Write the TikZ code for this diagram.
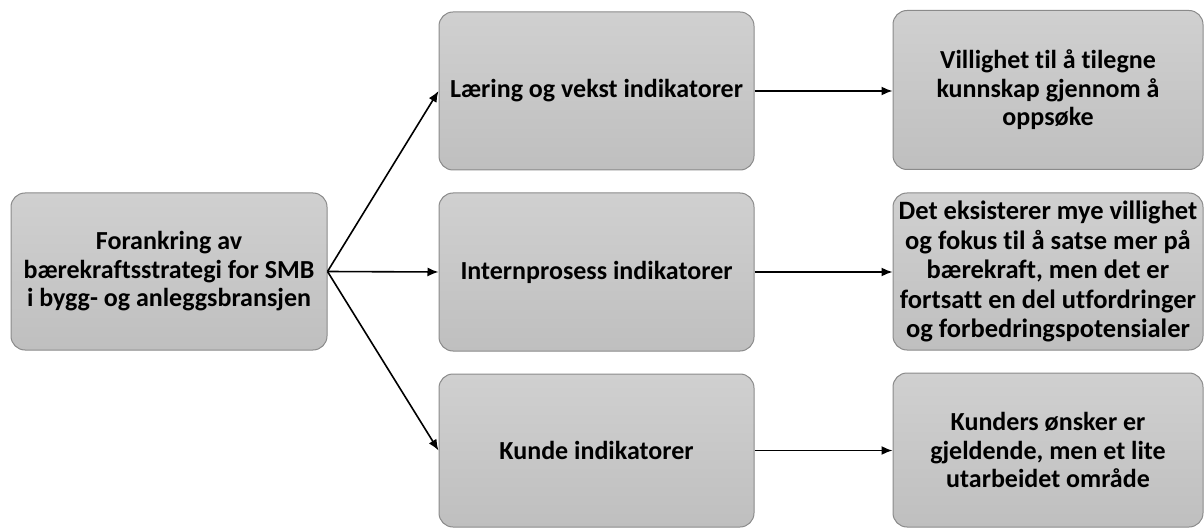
\documentclass[tikz,border=0pt]{standalone}
\usepackage{fontspec}
\setmainfont{Carlito}[Ligatures=NoCommon]
\usetikzlibrary{arrows.meta}
\definecolor{boxtop}{HTML}{D0D0D0}
\definecolor{boxbot}{HTML}{BFBFBF}
\definecolor{boxedge}{HTML}{8A8A8A}
\tikzset{
  card/.style={draw=boxedge, line width=1pt, rounded corners=14pt,
    top color=boxtop, bottom color=boxbot, shading angle=0,
    align=center, inner sep=1pt,
    font=\fontsize{26}{28.5}\selectfont\bfseries},
  link/.style={line width=1.6pt, -{Latex[length=11pt,width=9pt]}}
}
\begin{document}
\begin{tikzpicture}[x=1pt,y=-1pt]
\useasboundingbox (0,0) rectangle (1204,529);
% source box
\node[card, minimum width=316pt, minimum height=157pt] (src) at (169,271.5)
  {Forankring av\\bærekraftsstrategi for SMB\\i bygg- og anleggsbransjen};
% indicator boxes
\node[card, minimum width=315pt, minimum height=158pt] (m1) at (596.5,91)
  {Læring og vekst indikatorer};
\node[card, minimum width=315pt, minimum height=158pt] (m2) at (596.5,272)
  {Internprosess indikatorer};
\node[card, minimum width=315pt, minimum height=153pt] (m3) at (596.5,450.5)
  {Kunde indikatorer};
% finding boxes
\node[card, minimum width=310pt, minimum height=159pt] (r1) at (1048,90)
  {Villighet til å tilegne\\kunnskap gjennom å\\oppsøke};
\node[card, minimum width=310pt, minimum height=157pt,
      font=\fontsize{26.5}{29.5}\selectfont\bfseries] (r2) at (1048,271.5)
  {Det eksisterer mye villighet\\og fokus til å satse mer på\\bærekraft, men det er\\fortsatt en del utfordringer\\og forbedringspotensialer};
\node[card, minimum width=310pt, minimum height=154pt] (r3) at (1048,450)
  {Kunders ønsker er\\gjeldende, men et lite\\utarbeidet område};
% connectors
\draw[link] (src.east) -- (m1.west);
\draw[link] (src.east) -- (m2.west);
\draw[link] (src.east) -- (m3.west);
\draw[link] (m1.east) -- (m1.east -| r1.west);
\draw[link] (m2.east) -- (m2.east -| r2.west);
\draw[link] (m3.east) -- (m3.east -| r3.west);
\end{tikzpicture}
\end{document}
